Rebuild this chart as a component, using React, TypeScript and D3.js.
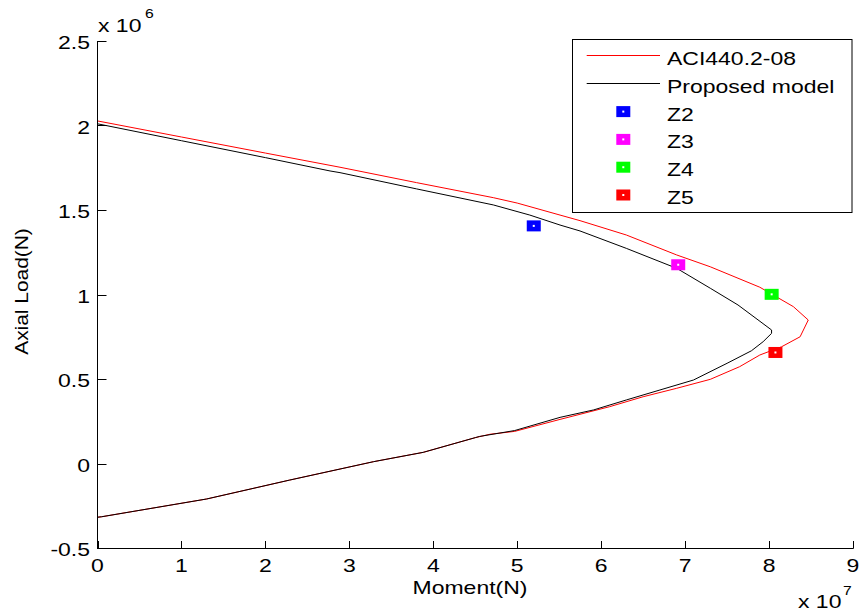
import * as d3 from "d3";

// Moment in 10^7 N, axial load in 10^6 N
const aciMoment = [0, 1.0, 2.0, 2.889, 3.8, 4.715, 5.0, 5.51, 5.748, 6.3, 6.9, 7.3, 7.89, 8.29, 8.467, 8.37, 8.15, 7.89, 7.65, 7.3, 6.9, 6.5, 6.1, 5.51, 4.97, 4.675, 4.5, 3.88, 3.29, 2.29, 1.3, 0.05, 0];
const aciLoad = [2.027, 1.932, 1.837, 1.753, 1.662, 1.573, 1.541, 1.47, 1.437, 1.352, 1.234, 1.164, 1.043, 0.928, 0.849, 0.75, 0.691, 0.642, 0.573, 0.498, 0.445, 0.395, 0.336, 0.261, 0.19, 0.173, 0.153, 0.066, 0.011, -0.098, -0.21, -0.315, -0.318];

const propMoment = [0, 1.0, 2.0, 2.77, 2.889, 3.8, 4.715, 5.15, 5.51, 5.748, 6.3, 6.9, 7.3, 7.63, 8.03, 8.03, 7.93, 7.79, 7.5, 7.1, 6.7, 6.3, 5.91, 5.51, 4.97, 4.55, 4.5, 3.88, 3.29, 2.29, 1.3, 0.05, 0];
const propLoad = [2.01, 1.91, 1.81, 1.731, 1.721, 1.625, 1.53, 1.47, 1.411, 1.376, 1.273, 1.155, 1.037, 0.938, 0.79, 0.77, 0.721, 0.667, 0.593, 0.494, 0.435, 0.376, 0.317, 0.273, 0.195, 0.16, 0.153, 0.066, 0.011, -0.098, -0.21, -0.315, -0.318];

const zoneNames = ["Z2", "Z3", "Z4", "Z5"];
const zoneMoment = [5.197, 6.918, 8.031, 8.076];
const zoneLoad = [1.406, 1.176, 1.001, 0.657];
const zoneColors = ["#0000ff", "#ff00ff", "#00ff00", "#ff0000"];

const xTicks = [0, 1, 2, 3, 4, 5, 6, 7, 8, 9];
const yTicks = [-0.5, 0, 0.5, 1, 1.5, 2, 2.5];

const W = 862;
const H = 615;
const font = "'Liberation Sans', Arial, sans-serif";
const sx = 1.21;

export default function App() {
  const x = d3.scaleLinear().domain([0, 9]).range([97.5, 853]);
  const y = d3.scaleLinear().domain([-0.5, 2.5]).range([548, 41]);

  const line = d3
    .line<number>()
    .x((d) => x(d))
    .y((_, i) => 0);

  const path = (ms: number[], ps: number[]) =>
    d3.line<[number, number]>().x((d) => x(d[0])).y((d) => y(d[1]))(ms.map((m, i) => [m, ps[i]]));

  const legendX = 572.5;
  const legendY = 39.5;
  const rowH = 27.8;
  const labels = ["ACI440.2-08", "Proposed model", ...zoneNames];

  return (
    <svg
      width={W}
      height={H}
      style={{ position: "absolute", left: 0, top: 0, background: "#fff" }}
      fontFamily={font}
    >
      <rect width={W} height={H} fill="#fff" />

      {/* curves */}
      <path d={path(aciMoment, aciLoad) || ""} fill="none" stroke="#ff0000" strokeWidth={1} />
      <path d={path(propMoment, propLoad) || ""} fill="none" stroke="#000" strokeWidth={1} />

      {/* zone markers */}
      {zoneNames.map((z, i) => (
        <g key={z}>
          <rect x={x(zoneMoment[i]) - 7} y={y(zoneLoad[i]) - 5.5} width={14} height={11} fill={zoneColors[i]} />
          <rect x={x(zoneMoment[i]) - 1} y={y(zoneLoad[i]) - 1} width={2} height={2} fill="#fff" />
        </g>
      ))}

      {/* axes */}
      <line x1={97.5} x2={97.5} y1={41} y2={548.5} stroke="#000" />
      <line x1={97} x2={853.5} y1={548.5} y2={548.5} stroke="#000" />
      {yTicks.map((t) => (
        <g key={"y" + t}>
          <line x1={97.5} x2={106.5} y1={Math.round(y(t)) + 0.5} y2={Math.round(y(t)) + 0.5} stroke="#000" />
          <text
            transform={`translate(90,${y(t) + 8}) scale(${sx},1)`}
            textAnchor="end"
            fontSize={19}
          >
            {t}
          </text>
        </g>
      ))}
      {xTicks.map((t) => (
        <g key={"x" + t}>
          <line x1={Math.round(x(t)) + 0.5} x2={Math.round(x(t)) + 0.5} y1={548.5} y2={541} stroke="#000" />
          <text transform={`translate(${x(t)},572) scale(${sx},1)`} textAnchor="middle" fontSize={19}>
            {t}
          </text>
        </g>
      ))}

      {/* exponents */}
      <text transform={`translate(98,32) scale(${sx},1)`} fontSize={19}>x 10</text>
      <text transform={`translate(145,18) scale(${sx},1)`} fontSize={13}>6</text>
      <text transform={`translate(798,608) scale(${sx},1)`} fontSize={19}>x 10</text>
      <text transform={`translate(843,595) scale(${sx},1)`} fontSize={13}>7</text>

      {/* axis labels */}
      <text transform={`translate(470,594) scale(${sx},1)`} textAnchor="middle" fontSize={19}>
        Moment(N)
      </text>
      <text transform={`translate(28,291.5) rotate(-90) scale(1.1,1)`} textAnchor="middle" fontSize={19}>
        Axial Load(N)
      </text>

      {/* legend */}
      <rect x={legendX} y={legendY} width={852 - legendX} height={212.5 - legendY} fill="#fff" stroke="#000" />
      <line x1={586.7} x2={660} y1={55.5} y2={55.5} stroke="#ff0000" />
      <line x1={586.7} x2={660} y1={83.5} y2={83.5} stroke="#000" />
      {zoneNames.map((z, i) => {
        const cy = 65 + rowH * (i + 2) - 9;
        return (
          <g key={"l" + z}>
            <rect x={623.3 - 7} y={cy - 5.5} width={14} height={11} fill={zoneColors[i]} />
            <rect x={623.3 - 1} y={cy - 1} width={2} height={2} fill="#fff" />
          </g>
        );
      })}
      {labels.map((l, i) => (
        <text key={l} transform={`translate(667,${65 + rowH * i}) scale(${sx},1)`} fontSize={19}>
          {l}
        </text>
      ))}
    </svg>
  );
}
